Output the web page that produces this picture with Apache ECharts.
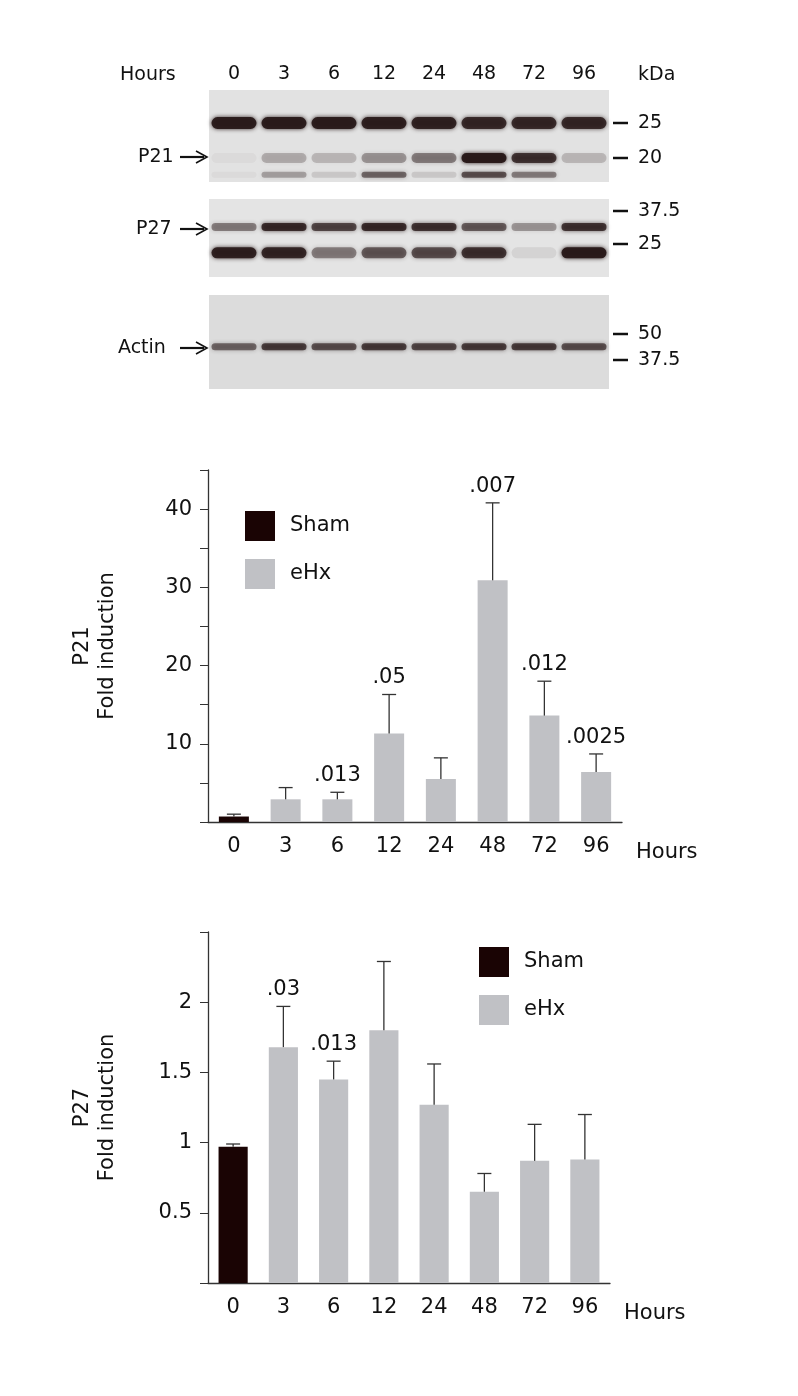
<!DOCTYPE html>
<html><head><meta charset="utf-8">
<script src="https://cdn.jsdelivr.net/npm/echarts@6/dist/echarts.min.js"></script>
<style>html,body{margin:0;padding:0;background:#fff}#c{width:798px;height:1396px}</style>
</head><body><div id="c"></div>
<script>
const hours = ['0','3','6','12','24','48','72','96'];
// P21 fold induction (mean, mean+SD)
const p21Mean = [0.7, 2.9, 2.9, 11.3, 5.5, 30.9, 13.6, 6.4];
const p21Err  = [1.0, 4.4, 3.8, 16.3, 8.2, 40.8, 18.0, 8.7];
const p21P    = ['', '', '.013', '.05', '', '.007', '.012', '.0025'];
// P27 fold induction
const p27Mean = [0.97, 1.68, 1.45, 1.80, 1.27, 0.65, 0.87, 0.88];
const p27Err  = [0.99, 1.97, 1.58, 2.29, 1.56, 0.78, 1.13, 1.20];
const p27P    = ['', '.03', '.013', '', '', '', '', ''];
// Blot band intensities per lane (0..1)
const blotP21Top  = [0.95, 0.95, 0.95, 0.92, 0.9, 0.85, 0.85, 0.85];
const blotP21Main = [0.04, 0.25, 0.2, 0.35, 0.45, 0.97, 0.8, 0.2];
const blotP21Low  = [0.04, 0.3, 0.12, 0.55, 0.12, 0.65, 0.45, 0.0];
const blotP27Up   = [0.45, 0.85, 0.7, 0.85, 0.8, 0.6, 0.35, 0.8];
const blotP27Low  = [0.92, 0.88, 0.45, 0.6, 0.65, 0.8, 0.08, 0.97];
const blotActin   = [0.55, 0.75, 0.65, 0.75, 0.7, 0.75, 0.75, 0.65];

const FONT = 'DejaVu Sans';
const SHAM = '#1a0404', EHX = '#c0c1c5';

function bands(arr, y, h){ return arr.map((v,i)=>[i, y, v, h]); }
function bandRender(params, api){
  const p = api.coord([api.value(0), api.value(1)]);
  const w = api.size([1,0])[0]*0.9;
  const h = api.value(3);
  const a = api.value(2);
  return {type:'rect', shape:{x:p[0]-w/2, y:p[1]-h/2, width:w, height:h, r:h/2},
    style:{fill:'rgba(40,25,25,'+a+')', shadowBlur:4, shadowColor:'rgba(40,25,25,'+a+')'}};
}
function errRender(params, api){
  const i = api.value(0);
  const top = api.coord([i, api.value(2)]);
  const base = api.coord([i, api.value(1)]);
  const lbl = api.value(3);
  const ch = [
    {type:'line', shape:{x1:top[0], y1:base[1], x2:top[0], y2:top[1]}, style:{stroke:'#333', lineWidth:1.3}},
    {type:'line', shape:{x1:top[0]-7, y1:top[1], x2:top[0]+7, y2:top[1]}, style:{stroke:'#333', lineWidth:1.3}}
  ];
  if (lbl) ch.push({type:'text', x:top[0], y:top[1]-6, style:{text:lbl, fill:'#111', font:'21px '+FONT, align:'center', verticalAlign:'bottom'}});
  return {type:'group', children:ch};
}

const blotGrids = [
  {left:209, width:400, top:90, height:92},
  {left:209, width:400, top:199, height:78},
  {left:209, width:400, top:295, height:94}
];
const grids = blotGrids.concat([
  {left:208, right:176, top:470, bottom:574},
  {left:208, right:188, top:932, bottom:113}
]);
const xAxes = [], yAxes = [];
blotGrids.forEach((g,k)=>{
  xAxes.push({type:'category', gridIndex:k, data:hours, position:'top', axisLine:{show:false}, axisTick:{show:false},
    axisLabel:{show:k===0, fontFamily:FONT, fontSize:19, color:'#111', margin:6}});
  yAxes.push({type:'value', gridIndex:k, min:0, max:1, inverse:true, show:false});
});
function barX(gi){ return {type:'category', gridIndex:gi, data:hours, name:'Hours', nameLocation:'end', nameGap:14,
  nameTextStyle:{fontFamily:FONT, fontSize:21, color:'#111', verticalAlign:'top', padding:[20,0,0,0]},
  axisLine:{lineStyle:{color:'#333', width:1.3}}, axisTick:{alignWithLabel:true, length:8, lineStyle:{color:'#333'}},
  axisLabel:{fontFamily:FONT, fontSize:21, color:'#111', margin:14}}; }
xAxes.push(barX(3), barX(4));
yAxes.push({type:'value', gridIndex:3, min:0, max:45, interval:5, name:'P21\nFold induction', nameLocation:'middle', nameGap:88, nameRotate:90,
  nameTextStyle:{fontFamily:FONT, fontSize:21, color:'#111', lineHeight:25},
  axisLine:{show:true, lineStyle:{color:'#333', width:1.3}}, axisTick:{show:true, length:8, lineStyle:{color:'#333'}}, splitLine:{show:false},
  axisLabel:{fontFamily:FONT, fontSize:21, color:'#111', margin:16, formatter:v=>(v>0 && v%10===0)?String(v):''}});
yAxes.push({type:'value', gridIndex:4, min:0, max:2.5, interval:0.5, name:'P27\nFold induction', nameLocation:'middle', nameGap:88, nameRotate:90,
  nameTextStyle:{fontFamily:FONT, fontSize:21, color:'#111', lineHeight:25},
  axisLine:{show:true, lineStyle:{color:'#333', width:1.3}}, axisTick:{show:true, length:8, lineStyle:{color:'#333'}}, splitLine:{show:false},
  axisLabel:{fontFamily:FONT, fontSize:21, color:'#111', margin:16, formatter:v=>(v>0 && v<2.5)?String(v):''}});

const series = [];
[[0,bands(blotP21Top,0.36,12)],[0,bands(blotP21Main,0.74,10)],[0,bands(blotP21Low,0.92,6)],
 [1,bands(blotP27Up,0.36,8)],[1,bands(blotP27Low,0.69,11)],[2,bands(blotActin,0.55,7)]].forEach(([k,d])=>{
  series.push({type:'custom', xAxisIndex:k, yAxisIndex:k, data:d, renderItem:bandRender, silent:true});
});
function barSeries(gi, mean, err, p){
  series.push({type:'bar', name:'Sham', xAxisIndex:gi, yAxisIndex:gi, barWidth:'58%', barGap:'-100%',
    itemStyle:{color:SHAM}, data:mean.map((v,i)=>i===0?v:null)});
  series.push({type:'bar', name:'eHx', xAxisIndex:gi, yAxisIndex:gi, barWidth:'58%', barGap:'-100%',
    itemStyle:{color:EHX}, data:mean.map((v,i)=>i===0?null:v)});
  series.push({type:'custom', xAxisIndex:gi, yAxisIndex:gi, renderItem:errRender, z:5,
    data:mean.map((v,i)=>[i, v, err[i], p[i]]), encode:{x:0, y:2}});
}
barSeries(3, p21Mean, p21Err, p21P);
barSeries(4, p27Mean, p27Err, p27P);

const txt = (x,y,t,extra)=>Object.assign({type:'text', x, y, style:{text:t, font:'19px '+FONT, fill:'#111', verticalAlign:'middle'}}, extra||{});
const arrow = (x,y)=>({type:'group', children:[
  {type:'line', shape:{x1:x, y1:y, x2:x+24, y2:y}, style:{stroke:'#111', lineWidth:2.2}},
  {type:'polyline', shape:{points:[[x+16,y-6],[x+27,y],[x+16,y+6]]}, style:{stroke:'#111', lineWidth:1.6, fill:null}}
]});
const mark = (y,t)=>({type:'group', children:[
  {type:'line', shape:{x1:613, y1:y, x2:628, y2:y}, style:{stroke:'#111', lineWidth:2.5}},
  txt(638, y, t)
]});
const graphic = [
  {type:'rect', shape:{x:209,y:90,width:400,height:92}, style:{fill:'#e2e2e2'}, z:-1},
  {type:'rect', shape:{x:209,y:199,width:400,height:78}, style:{fill:'#e4e4e4'}, z:-1},
  {type:'rect', shape:{x:209,y:295,width:400,height:94}, style:{fill:'#dcdcdc'}, z:-1},
  txt(120, 75, 'Hours'), txt(638, 75, 'kDa'),
  txt(138, 157, 'P21'), arrow(180,157),
  txt(136, 229, 'P27'), arrow(180,229),
  txt(118, 348, 'Actin'), arrow(180,348),
  mark(123,'25'), mark(158,'20'), mark(211,'37.5'), mark(244,'25'), mark(334,'50'), mark(360,'37.5')
];

const legendBase = {orient:'vertical', itemWidth:30, itemHeight:30, itemGap:18, icon:'rect',
  textStyle:{fontFamily:FONT, fontSize:21, color:'#111', padding:[0,0,0,10]}, data:['Sham','eHx'], selectedMode:false};
const chart = echarts.init(document.getElementById('c'));
chart.setOption({
  backgroundColor:'#fff', animation:false,
  grid:grids, xAxis:xAxes, yAxis:yAxes, series,
  legend:[Object.assign({left:240, top:506}, legendBase), Object.assign({left:474, top:942}, legendBase)],
  graphic
});
</script></body></html>
